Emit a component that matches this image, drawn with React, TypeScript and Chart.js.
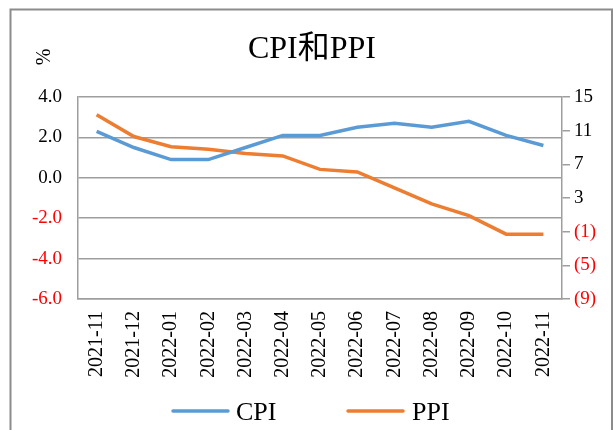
import React, { useEffect, useRef } from "react";
import { Chart, registerables } from "chart.js";

Chart.register(...registerables);

const categories = [
  "2021-11", "2021-12", "2022-01", "2022-02", "2022-03", "2022-04", "2022-05",
  "2022-06", "2022-07", "2022-08", "2022-09", "2022-10", "2022-11",
];
const cpiValues = [2.3, 1.5, 0.9, 0.9, 1.5, 2.1, 2.1, 2.5, 2.7, 2.5, 2.8, 2.1, 1.6];
const ppiValues = [12.9, 10.3, 9.1, 8.8, 8.3, 8.0, 6.4, 6.1, 4.2, 2.3, 0.9, -1.3, -1.3];
const leftTicks = [-6, -4, -2, 0, 2, 4];
const rightTicks = [-9, -5, -1, 3, 7, 11, 15];
const titleText = "CPI和PPI";
const unitText = "%";
const seriesNames = ["CPI", "PPI"];
const seriesColors = ["#5B9BD5", "#ED7D31"];

const SERIF = "'Liberation Serif', 'Times New Roman', 'Noto Sans CJK SC', serif";
const NEG = "#FF0000";
const POS = "#000000";
const GRID = "#9E9E9E";
const LEFT_PAD = 16;
const TICK_FONT = 19;

const decorPlugin = {
  id: "decor",
  beforeDraw(chart: any) {
    const ctx = chart.ctx;
    ctx.save();
    ctx.fillStyle = "#ffffff";
    ctx.fillRect(0, 0, chart.width, chart.height);
    ctx.restore();
  },
  afterDraw(chart: any) {
    const ctx = chart.ctx;
    ctx.save();
    // negative left-axis labels in red, at the scale's own tick positions
    const ys = chart.scales.y;
    if (ys) {
      ctx.font = `${TICK_FONT}px ${SERIF}`;
      ctx.textAlign = "right";
      ctx.textBaseline = "middle";
      leftTicks.forEach((v) => {
        if (v >= 0) return;
        const py = ys.getPixelForValue(v);
        ctx.fillStyle = "#ffffff";
        ctx.fillRect(14, py - 12, ys.right - 8 - 14, 24);
        ctx.fillStyle = NEG;
        ctx.fillText(v.toFixed(1), ys.right - LEFT_PAD, py);
      });
    }
    ctx.strokeStyle = "#8C8C8C";
    ctx.lineWidth = 2;
    ctx.strokeRect(10.5, 9.5, 601.5, 440);
    ctx.fillStyle = "#000000";
    ctx.font = `32px ${SERIF}`;
    ctx.textAlign = "center";
    ctx.textBaseline = "alphabetic";
    ctx.fillText(titleText, 312, 58);
    ctx.save();
    ctx.translate(45, 57);
    ctx.rotate(-Math.PI / 2);
    ctx.font = `20px ${SERIF}`;
    ctx.textAlign = "center";
    ctx.textBaseline = "middle";
    ctx.fillText(unitText, 0, 0);
    ctx.restore();
    const items = [
      { x0: 173, x1: 228, tx: 236 },
      { x0: 348, x1: 403, tx: 412 },
    ];
    chart.data.datasets.forEach((ds: any, i: number) => {
      const it = items[i];
      ctx.strokeStyle = ds.borderColor;
      ctx.lineWidth = 3.5;
      ctx.lineCap = "round";
      ctx.beginPath();
      ctx.moveTo(it.x0, 411);
      ctx.lineTo(it.x1, 411);
      ctx.stroke();
      ctx.fillStyle = "#000000";
      ctx.font = `26px ${SERIF}`;
      ctx.textAlign = "left";
      ctx.textBaseline = "alphabetic";
      ctx.fillText(ds.label, it.tx, 420);
    });
    ctx.restore();
  },
};

export default function App() {
  const canvasRef = useRef<HTMLCanvasElement | null>(null);

  useEffect(() => {
    if (!canvasRef.current) return;
    const chart = new Chart(canvasRef.current, {
      type: "line",
      data: {
        labels: categories,
        datasets: [
          {
            label: seriesNames[0],
            data: cpiValues,
            borderColor: seriesColors[0],
            backgroundColor: seriesColors[0],
            borderWidth: 3.5,
            pointRadius: 0,
            tension: 0,
            yAxisID: "y",
          },
          {
            label: seriesNames[1],
            data: ppiValues,
            borderColor: seriesColors[1],
            backgroundColor: seriesColors[1],
            borderWidth: 3.5,
            pointRadius: 0,
            tension: 0,
            yAxisID: "y1",
          },
        ],
      },
      options: {
        animation: false,
        responsive: false,
        maintainAspectRatio: false,
        devicePixelRatio: 1,
        layout: { padding: { top: 97, left: 0, right: 0, bottom: 0 } },
        plugins: {
          legend: { display: false },
          title: { display: false },
          tooltip: { enabled: false },
        },
        scales: {
          x: {
            offset: true,
            grid: { display: false, drawTicks: false },
            border: { display: true, color: GRID, width: 1.5 },
            ticks: {
              maxRotation: 90,
              minRotation: 90,
              autoSkip: false,
              padding: 12,
              color: POS,
              font: { family: SERIF, size: 20 },
            },
            afterFit(scale: any) {
              scale.height = 131;
            },
          },
          y: {
            position: "left",
            min: leftTicks[0],
            max: leftTicks[leftTicks.length - 1],
            afterBuildTicks(scale: any) {
              scale.ticks = leftTicks.map((v) => ({ value: v }));
            },
            ticks: {
              padding: LEFT_PAD,
              font: { family: SERIF, size: TICK_FONT },
              color: POS,
              callback: (v: any) => Number(v).toFixed(1),
            },
            grid: { color: GRID, lineWidth: 1.5, drawTicks: false },
            border: { display: true, color: GRID, width: 1.5 },
            afterFit(scale: any) {
              scale.width = 78;
            },
          },
          y1: {
            position: "right",
            min: rightTicks[0],
            max: rightTicks[rightTicks.length - 1],
            afterBuildTicks(scale: any) {
              scale.ticks = rightTicks.map((v) => ({ value: v }));
            },
            ticks: {
              padding: 4,
              font: { family: SERIF, size: TICK_FONT },
              color: (c: any) => (c.tick && c.tick.value < 0 ? NEG : POS),
              callback: (v: any) => (Number(v) < 0 ? `(${-Number(v)})` : `${v}`),
            },
            grid: {
              drawOnChartArea: false,
              drawTicks: true,
              tickLength: 8,
              color: GRID,
              lineWidth: 1.5,
            },
            border: { display: true, color: GRID, width: 1.5 },
            afterFit(scale: any) {
              scale.width = 51;
            },
          },
        },
      } as any,
      plugins: [decorPlugin],
    });
    return () => chart.destroy();
  }, []);

  return (
    <div style={{ position: "absolute", left: 0, top: 0, width: 613, height: 430 }}>
      <canvas ref={canvasRef} width={613} height={430} style={{ width: 613, height: 430 }} />
    </div>
  );
}
